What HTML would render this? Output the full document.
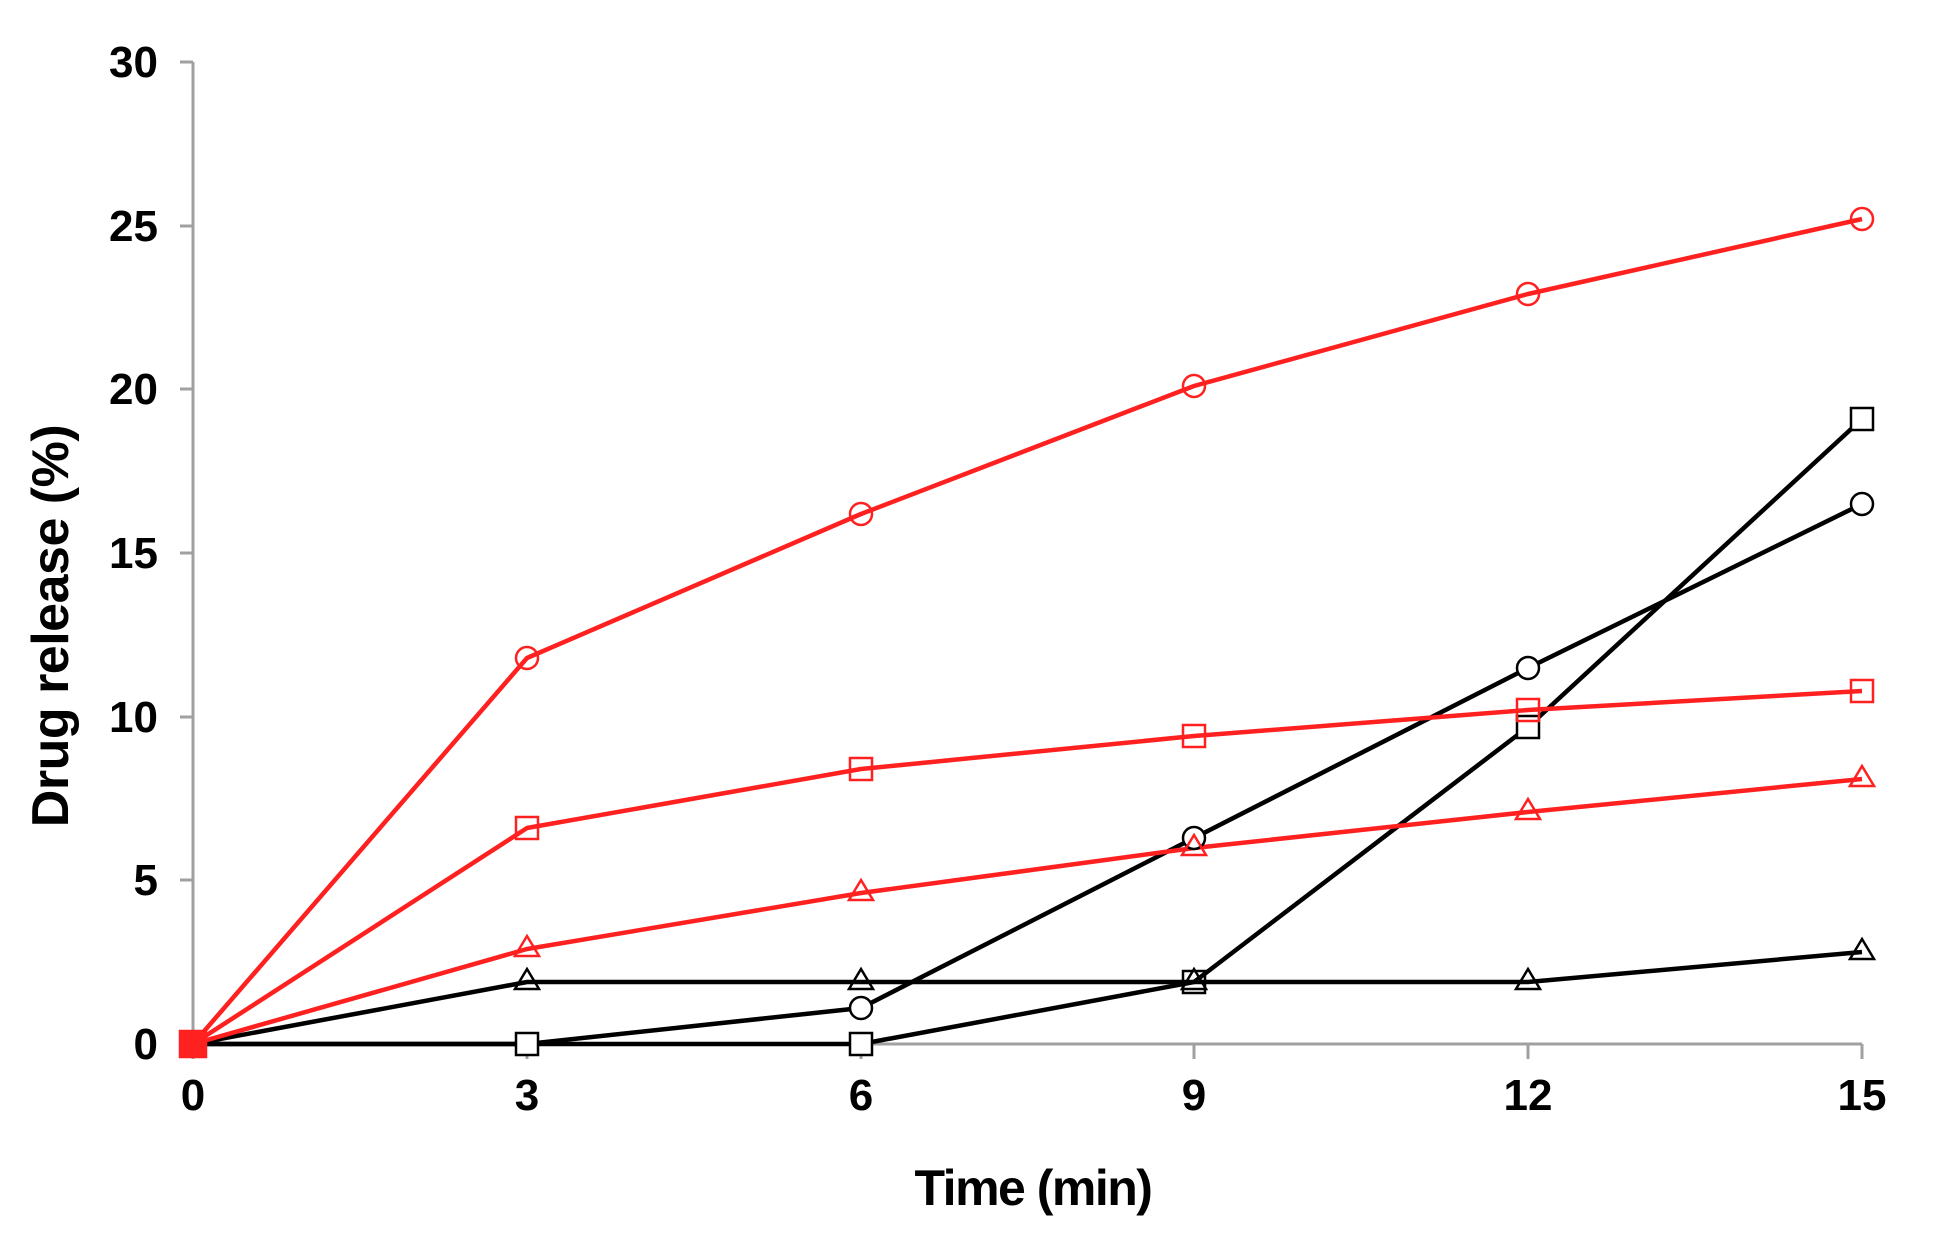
<!DOCTYPE html>
<html><head><meta charset="utf-8"><style>
html,body{margin:0;padding:0;background:#fff;}
svg{display:block;}
text{font-family:"Liberation Sans",Arial,sans-serif;font-weight:bold;fill:#000;}
</style></head><body>
<svg width="1959" height="1241" viewBox="0 0 1959 1241" xmlns="http://www.w3.org/2000/svg">
<g stroke="#a0a0a0" stroke-width="3" fill="none">
<line x1="193" y1="62" x2="193" y2="1044"/>
<line x1="193" y1="1044" x2="1862" y2="1044"/>
<line x1="180" y1="62" x2="193" y2="62"/>
<line x1="180" y1="226" x2="193" y2="226"/>
<line x1="180" y1="389" x2="193" y2="389"/>
<line x1="180" y1="553" x2="193" y2="553"/>
<line x1="180" y1="717" x2="193" y2="717"/>
<line x1="180" y1="880" x2="193" y2="880"/>
<line x1="180" y1="1044" x2="193" y2="1044"/>
<line x1="193" y1="1044" x2="193" y2="1059"/>
<line x1="527" y1="1044" x2="527" y2="1059"/>
<line x1="861" y1="1044" x2="861" y2="1059"/>
<line x1="1194" y1="1044" x2="1194" y2="1059"/>
<line x1="1528" y1="1044" x2="1528" y2="1059"/>
<line x1="1862" y1="1044" x2="1862" y2="1059"/>
</g>
<g font-size="44" text-anchor="end">
<text x="158" y="77">30</text>
<text x="158" y="241">25</text>
<text x="158" y="404">20</text>
<text x="158" y="568">15</text>
<text x="158" y="732">10</text>
<text x="158" y="895">5</text>
<text x="158" y="1059">0</text>
</g>
<g font-size="44" text-anchor="middle">
<text x="193" y="1110">0</text>
<text x="527" y="1110">3</text>
<text x="861" y="1110">6</text>
<text x="1194" y="1110">9</text>
<text x="1528" y="1110">12</text>
<text x="1862" y="1110">15</text>
</g>
<text x="1033" y="1205" font-size="50" text-anchor="middle" letter-spacing="-1.5">Time (min)</text>
<text transform="translate(68,626) rotate(-90)" font-size="52" text-anchor="middle" letter-spacing="-0.5">Drug release (%)</text>

<g fill="none" stroke-width="4.5" stroke-linejoin="round">
<polyline stroke="#000" points="193,1044 527,982 861,982 1194,982 1528,982 1862,952"/>
<polyline stroke="#000" points="193,1044 527,1044 861,1008 1194,838 1528,668 1862,504"/>
<polyline stroke="#000" points="193,1044 527,1044 861,1044 1194,982 1528,727 1862,419"/>
<polyline stroke="#ff2020" points="193,1044 527,949 861,893 1194,848 1528,812 1862,779"/>
<polyline stroke="#ff2020" points="193,1044 527,828 861,769 1194,736 1528,710 1862,691"/>
<polyline stroke="#ff2020" points="193,1044 527,658 861,514 1194,386 1528,294 1862,219"/>
</g>
<g fill="#fff" stroke-width="2.5">
<g stroke="#000">
<path d="M527,969 l12,20 h-24z M861,969 l12,20 h-24z M1194,969 l12,20 h-24z M1528,969 l12,20 h-24z M1862,939 l12,20 h-24z" fill="none"/>
<circle cx="861" cy="1008" r="11"/><circle cx="1194" cy="838" r="11"/><circle cx="1528" cy="668" r="11"/><circle cx="1862" cy="504" r="11"/>
<rect x="516" y="1033" width="22" height="22"/><rect x="850" y="1033" width="22" height="22"/><rect x="1183" y="971" width="22" height="22" fill="none"/><rect x="1517" y="716" width="22" height="22"/><rect x="1851" y="408" width="22" height="22"/>
</g>
<g stroke="#ff2020">
<path d="M527,936 l12,20 h-24z M861,880 l12,20 h-24z M1194,835 l12,20 h-24z M1528,799 l12,20 h-24z M1862,766 l12,20 h-24z" fill="none"/>
<rect x="516" y="817" width="22" height="22" fill="none"/><rect x="850" y="758" width="22" height="22" fill="none"/><rect x="1183" y="725" width="22" height="22" fill="none"/><rect x="1517" y="699" width="22" height="22" fill="none"/><rect x="1851" y="680" width="22" height="22" fill="none"/>
<circle cx="527" cy="658" r="11" fill="none"/><circle cx="861" cy="514" r="11" fill="none"/><circle cx="1194" cy="386" r="11" fill="none"/><circle cx="1528" cy="294" r="11" fill="none"/><circle cx="1862" cy="219" r="11" fill="none"/>
<rect x="180" y="1031" width="26" height="26" fill="#ff2020"/>
</g>
</g>
</svg>
</body></html>
